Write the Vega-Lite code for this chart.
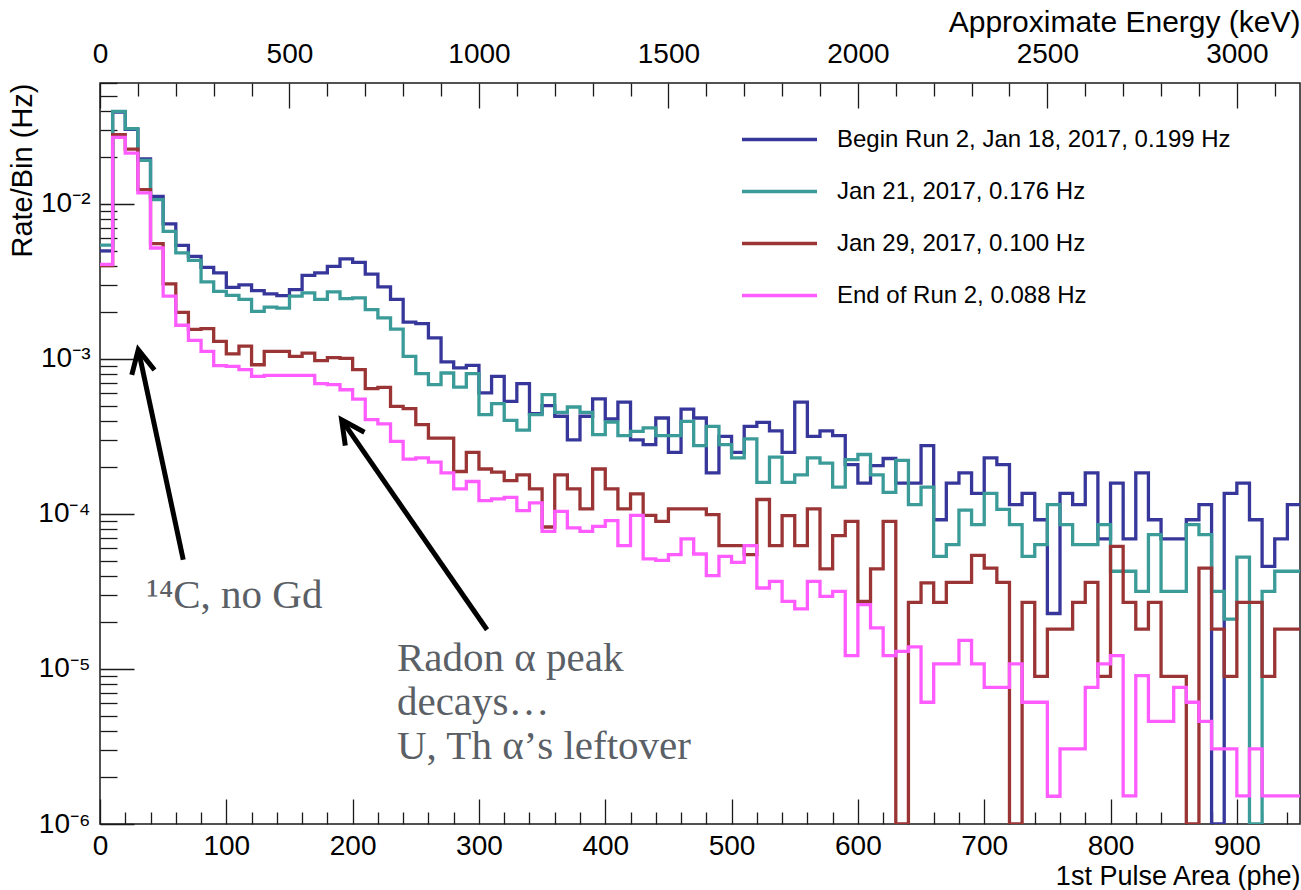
{
  "$schema": "https://vega.github.io/schema/vega-lite/v6.json",
  "width": 1200,
  "height": 741,
  "autosize": {"type": "none"},
  "padding": {"left": 100, "top": 83, "right": 1, "bottom": 66},
  "background": "white",
  "config": {
    "view": {"stroke": "#1a1a1a", "strokeWidth": 1.5},
    "font": "Liberation Sans",
    "axis": {
      "domain": false,
      "grid": false,
      "labelFont": "Liberation Sans",
      "titleFont": "Liberation Sans",
      "labelColor": "#000",
      "titleColor": "#000",
      "tickColor": "#1a1a1a",
      "tickWidth": 1.3,
      "titleFontWeight": "normal",
      "labelFlush": false,
      "labelOverlap": false,
      "labelBound": false
    }
  },
  "datasets": {
    "spectra": [
      {"phe": 0, "b": 4.98e-3, "t": 5.43e-3, "r": 4.00e-3, "p": 4.07e-3},
      {"phe": 10, "b": 3.92e-2, "t": 3.96e-2, "r": 2.80e-2, "p": 2.69e-2},
      {"phe": 20, "b": 3.03e-2, "t": 3.06e-2, "r": 2.26e-2, "p": 2.13e-2},
      {"phe": 30, "b": 1.95e-2, "t": 1.91e-2, "r": 1.236e-2, "p": 1.178e-2},
      {"phe": 40, "b": 1.12e-2, "t": 1.066e-2, "r": 5.55e-3, "p": 5.20e-3},
      {"phe": 50, "b": 7.43e-3, "t": 6.66e-3, "r": 3.05e-3, "p": 2.54e-3},
      {"phe": 60, "b": 5.41e-3, "t": 4.83e-3, "r": 2.00e-3, "p": 1.65e-3},
      {"phe": 70, "b": 4.59e-3, "t": 4.33e-3, "r": 1.55e-3, "p": 1.32e-3},
      {"phe": 80, "b": 3.90e-3, "t": 3.14e-3, "r": 1.57e-3, "p": 1.12e-3},
      {"phe": 90, "b": 3.59e-3, "t": 2.73e-3, "r": 1.30e-3, "p": 9.06e-4},
      {"phe": 100, "b": 2.90e-3, "t": 2.57e-3, "r": 1.08e-3, "p": 8.96e-4},
      {"phe": 110, "b": 3.01e-3, "t": 2.42e-3, "r": 1.21e-3, "p": 8.53e-4},
      {"phe": 120, "b": 2.76e-3, "t": 2.03e-3, "r": 9.18e-4, "p": 7.73e-4},
      {"phe": 130, "b": 2.63e-3, "t": 2.16e-3, "r": 1.12e-3, "p": 7.84e-4},
      {"phe": 140, "b": 2.56e-3, "t": 2.13e-3, "r": 1.12e-3, "p": 7.84e-4},
      {"phe": 150, "b": 2.80e-3, "t": 2.54e-3, "r": 1.04e-3, "p": 7.84e-4},
      {"phe": 160, "b": 3.46e-3, "t": 2.67e-3, "r": 1.09e-3, "p": 7.84e-4},
      {"phe": 170, "b": 3.59e-3, "t": 2.42e-3, "r": 9.75e-4, "p": 6.93e-4},
      {"phe": 180, "b": 3.96e-3, "t": 2.71e-3, "r": 1.02e-3, "p": 6.83e-4},
      {"phe": 190, "b": 4.42e-3, "t": 2.45e-3, "r": 1.01e-3, "p": 6.33e-4},
      {"phe": 200, "b": 4.20e-3, "t": 2.48e-3, "r": 8.53e-4, "p": 5.51e-4},
      {"phe": 210, "b": 3.53e-3, "t": 2.08e-3, "r": 6.43e-4, "p": 4.06e-4},
      {"phe": 220, "b": 2.92e-3, "t": 1.84e-3, "r": 6.56e-4, "p": 3.81e-4},
      {"phe": 230, "b": 2.42e-3, "t": 1.56e-3, "r": 4.94e-4, "p": 2.94e-4},
      {"phe": 240, "b": 1.73e-3, "t": 1.04e-3, "r": 4.78e-4, "p": 2.26e-4},
      {"phe": 250, "b": 1.69e-3, "t": 8.04e-4, "r": 3.77e-4, "p": 2.30e-4},
      {"phe": 260, "b": 1.37e-3, "t": 6.83e-4, "r": 3.09e-4, "p": 2.16e-4},
      {"phe": 270, "b": 9.57e-4, "t": 8.12e-4, "r": 3.09e-4, "p": 1.84e-4},
      {"phe": 280, "b": 8.75e-4, "t": 6.59e-4, "r": 1.88e-4, "p": 1.45e-4},
      {"phe": 290, "b": 9.10e-4, "t": 8.04e-4, "r": 2.50e-4, "p": 1.62e-4},
      {"phe": 300, "b": 6.04e-4, "t": 4.38e-4, "r": 1.95e-4, "p": 1.22e-4},
      {"phe": 310, "b": 7.73e-4, "t": 5.15e-4, "r": 1.86e-4, "p": 1.25e-4},
      {"phe": 320, "b": 5.33e-4, "t": 4.02e-4, "r": 1.64e-4, "p": 1.28e-4},
      {"phe": 330, "b": 6.93e-4, "t": 3.47e-4, "r": 1.79e-4, "p": 1.05e-4},
      {"phe": 340, "b": 4.44e-4, "t": 4.38e-4, "r": 1.45e-4, "p": 1.18e-4},
      {"phe": 350, "b": 5.00e-4, "t": 5.89e-4, "r": 8.24e-5, "p": 7.73e-5},
      {"phe": 360, "b": 4.27e-4, "t": 4.53e-4, "r": 1.79e-4, "p": 1.04e-4},
      {"phe": 370, "b": 3.01e-4, "t": 4.90e-4, "r": 1.45e-4, "p": 8.13e-5},
      {"phe": 380, "b": 4.27e-4, "t": 4.53e-4, "r": 1.08e-4, "p": 7.73e-5},
      {"phe": 390, "b": 5.52e-4, "t": 3.25e-4, "r": 1.95e-4, "p": 8.32e-5},
      {"phe": 400, "b": 4.10e-4, "t": 3.92e-4, "r": 1.45e-4, "p": 9.06e-5},
      {"phe": 410, "b": 5.27e-4, "t": 3.20e-4, "r": 1.08e-4, "p": 6.25e-5},
      {"phe": 420, "b": 3.01e-4, "t": 3.41e-4, "r": 1.35e-4, "p": 9.79e-5},
      {"phe": 430, "b": 2.80e-4, "t": 3.59e-4, "r": 9.79e-5, "p": 5.13e-5},
      {"phe": 440, "b": 4.16e-4, "t": 3.20e-4, "r": 8.97e-5, "p": 5.02e-5},
      {"phe": 450, "b": 2.50e-4, "t": 3.20e-4, "r": 1.08e-4, "p": 5.46e-5},
      {"phe": 460, "b": 4.75e-4, "t": 3.96e-4, "r": 1.08e-4, "p": 6.90e-5},
      {"phe": 470, "b": 4.16e-4, "t": 2.76e-4, "r": 1.08e-4, "p": 5.52e-5},
      {"phe": 480, "b": 1.84e-4, "t": 3.67e-4, "r": 9.91e-5, "p": 4.00e-5},
      {"phe": 490, "b": 3.17e-4, "t": 2.80e-4, "r": 6.25e-5, "p": 5.33e-5},
      {"phe": 500, "b": 2.50e-4, "t": 2.30e-4, "r": 6.25e-5, "p": 4.88e-5},
      {"phe": 510, "b": 3.67e-4, "t": 3.05e-4, "r": 5.46e-5, "p": 6.25e-5},
      {"phe": 520, "b": 3.90e-4, "t": 1.60e-4, "r": 1.24e-4, "p": 3.33e-5},
      {"phe": 530, "b": 3.44e-4, "t": 2.33e-4, "r": 6.25e-5, "p": 3.67e-5},
      {"phe": 540, "b": 2.50e-4, "t": 1.60e-4, "r": 9.75e-5, "p": 2.73e-5},
      {"phe": 550, "b": 5.27e-4, "t": 1.79e-4, "r": 6.25e-5, "p": 2.44e-5},
      {"phe": 560, "b": 3.17e-4, "t": 2.30e-4, "r": 1.08e-4, "p": 3.67e-5},
      {"phe": 570, "b": 3.44e-4, "t": 2.13e-4, "r": 4.42e-5, "p": 2.94e-5},
      {"phe": 580, "b": 3.20e-4, "t": 1.49e-4, "r": 7.24e-5, "p": 3.17e-5},
      {"phe": 590, "b": 2.08e-4, "t": 2.24e-4, "r": 8.97e-5, "p": 1.22e-5},
      {"phe": 600, "b": 1.58e-4, "t": 2.42e-4, "r": 2.73e-5, "p": 2.60e-5},
      {"phe": 610, "b": 2.05e-4, "t": 1.79e-4, "r": 4.42e-5, "p": 1.84e-5},
      {"phe": 620, "b": 2.28e-4, "t": 1.38e-4, "r": 8.97e-5, "p": 1.22e-5},
      {"phe": 630, "b": 1.58e-4, "t": 2.22e-4, "r": 0, "p": 1.30e-5},
      {"phe": 640, "b": 1.58e-4, "t": 1.15e-4, "r": 2.69e-5, "p": 1.39e-5},
      {"phe": 650, "b": 2.76e-4, "t": 1.49e-4, "r": 3.59e-5, "p": 6.10e-6},
      {"phe": 660, "b": 9.18e-5, "t": 5.33e-5, "r": 2.69e-5, "p": 1.08e-5},
      {"phe": 670, "b": 1.58e-4, "t": 6.34e-5, "r": 3.62e-5, "p": 1.08e-5},
      {"phe": 680, "b": 1.84e-4, "t": 1.06e-4, "r": 3.62e-5, "p": 1.53e-5},
      {"phe": 690, "b": 1.36e-4, "t": 8.53e-5, "r": 5.41e-5, "p": 1.08e-5},
      {"phe": 700, "b": 2.30e-4, "t": 1.36e-4, "r": 4.48e-5, "p": 7.62e-6},
      {"phe": 710, "b": 2.08e-4, "t": 1.07e-4, "r": 3.62e-5, "p": 7.62e-6},
      {"phe": 720, "b": 1.15e-4, "t": 8.53e-5, "r": 0, "p": 1.08e-5},
      {"phe": 730, "b": 1.36e-4, "t": 5.33e-5, "r": 2.69e-5, "p": 6.10e-6},
      {"phe": 740, "b": 9.18e-5, "t": 6.34e-5, "r": 8.97e-6, "p": 6.10e-6},
      {"phe": 750, "b": 2.28e-5, "t": 1.15e-4, "r": 1.81e-5, "p": 1.51e-6},
      {"phe": 760, "b": 1.36e-4, "t": 8.53e-5, "r": 1.81e-5, "p": 3.05e-6},
      {"phe": 770, "b": 1.15e-4, "t": 6.34e-5, "r": 2.69e-5, "p": 3.05e-6},
      {"phe": 780, "b": 1.84e-4, "t": 6.34e-5, "r": 3.62e-5, "p": 7.62e-6},
      {"phe": 790, "b": 6.90e-5, "t": 8.53e-5, "r": 8.97e-6, "p": 1.08e-5},
      {"phe": 800, "b": 1.58e-4, "t": 4.27e-5, "r": 6.18e-5, "p": 1.22e-5},
      {"phe": 810, "b": 6.90e-5, "t": 4.27e-5, "r": 2.69e-5, "p": 1.52e-6},
      {"phe": 820, "b": 1.84e-4, "t": 3.17e-5, "r": 1.81e-5, "p": 9.06e-6},
      {"phe": 830, "b": 9.18e-5, "t": 7.36e-5, "r": 2.69e-5, "p": 4.59e-6},
      {"phe": 840, "b": 6.90e-5, "t": 3.17e-5, "r": 8.97e-6, "p": 4.59e-6},
      {"phe": 850, "b": 6.90e-5, "t": 3.17e-5, "r": 8.97e-6, "p": 7.62e-6},
      {"phe": 860, "b": 9.18e-5, "t": 8.53e-5, "r": 0, "p": 6.10e-6},
      {"phe": 870, "b": 1.15e-4, "t": 7.36e-5, "r": 4.48e-5, "p": 4.59e-6},
      {"phe": 880, "b": 0, "t": 3.17e-5, "r": 1.81e-5, "p": 3.05e-6},
      {"phe": 890, "b": 1.36e-4, "t": 2.10e-5, "r": 8.97e-6, "p": 3.05e-6},
      {"phe": 900, "b": 1.58e-4, "t": 5.27e-5, "r": 2.69e-5, "p": 1.52e-6},
      {"phe": 910, "b": 9.18e-5, "t": 0, "r": 2.69e-5, "p": 3.05e-6},
      {"phe": 920, "b": 4.59e-5, "t": 3.17e-5, "r": 8.97e-6, "p": 1.52e-6},
      {"phe": 930, "b": 6.90e-5, "t": 4.27e-5, "r": 1.81e-5, "p": 1.52e-6},
      {"phe": 940, "b": 1.15e-4, "t": 4.27e-5, "r": 1.81e-5, "p": 1.52e-6},
      {"phe": 950, "b": 1.15e-4, "t": 4.27e-5, "r": 1.81e-5, "p": 1.52e-6}
    ]
  },
  "layer": [
    {
      "data": {"name": "spectra"},
      "transform": [{"fold": ["b", "t", "r", "p"], "as": ["run", "rate"]}],
      "mark": {"type": "line", "interpolate": "step-after", "strokeWidth": 3.3, "clip": true, "strokeJoin": "miter"},
      "encoding": {
        "x": {
          "field": "phe", "type": "quantitative",
          "scale": {"domain": [0, 950], "nice": false, "zero": false},
          "axis": {
            "orient": "bottom", "values": [0, 100, 200, 300, 400, 500, 600, 700, 800, 900],
            "ticks": false, "labelPadding": 8, "labelFontSize": 28, "format": "d",
            "title": "1st Pulse Area (phe)", "titleFontSize": 27,
            "titleX": 1200, "titleY": 52, "titleAlign": "right", "titleBaseline": "middle", "titleAnchor": "end"
          }
        },
        "y": {
          "field": "rate", "type": "quantitative",
          "scale": {"type": "log", "domain": [1e-6, 0.0603], "nice": false, "clamp": true},
          "axis": {
            "orient": "left", "values": [1e-6, 1e-5, 1e-4, 1e-3, 1e-2],
            "ticks": false, "labelPadding": 10, "labelFontSize": 28,
            "labelExpr": "['10⁻⁶', '10⁻⁵', '10⁻⁴', '10⁻³', '10⁻²'][round(log(datum.value) / LN10) + 6]",
            "title": "Rate/Bin (Hz)", "titleFontSize": 29,
            "titleX": -78, "titleY": 0, "titleAngle": -90, "titleAlign": "right", "titleBaseline": "middle"
          }
        },
        "color": {
          "field": "run", "type": "nominal",
          "scale": {"domain": ["b", "t", "r", "p"], "range": ["#37379b", "#3a9b98", "#9b3535", "#ff5cff"]},
          "legend": {
            "orient": "none", "legendX": 640, "legendY": 17, "title": null, "padding": 0,
            "symbolType": "stroke", "symbolSize": 5625, "symbolStrokeWidth": 3.3,
            "labelFont": "Liberation Sans", "labelFontSize": 24, "labelColor": "#000",
            "labelOffset": 18, "rowPadding": -28, "labelLimit": 700,
            "labelExpr": "datum.label == 'b' ? 'Begin Run 2, Jan 18, 2017, 0.199 Hz' : datum.label == 't' ? 'Jan 21, 2017, 0.176 Hz' : datum.label == 'r' ? 'Jan 29, 2017, 0.100 Hz' : 'End of Run 2, 0.088 Hz'"
          }
        }
      }
    },
    {
      "data": {"values": [{}]},
      "mark": {"type": "point", "opacity": 0},
      "encoding": {
        "x": {
          "datum": 0, "type": "quantitative",
          "scale": {"domain": [0, 950], "nice": false, "zero": false},
          "axis": {"orient": "bottom", "values": [0, 100, 200, 300, 400, 500, 600, 700, 800, 900], "tickSize": -25, "labels": false, "title": null}
        },
        "y": {
          "datum": 0.001, "type": "quantitative",
          "scale": {"type": "log", "domain": [1e-6, 0.0603], "nice": false, "clamp": true},
          "axis": {"orient": "left", "values": [1e-6, 1e-5, 1e-4, 1e-3, 1e-2], "tickSize": -34, "labels": false, "title": null}
        }
      }
    },
    {
      "data": {"values": [{}]},
      "mark": {"type": "point", "opacity": 0},
      "encoding": {
        "x": {
          "datum": 0, "type": "quantitative",
          "scale": {"domain": [0, 950], "nice": false, "zero": false},
          "axis": {
            "orient": "bottom",
            "values": [20, 40, 60, 80, 120, 140, 160, 180, 220, 240, 260, 280, 320, 340, 360, 380, 420, 440, 460, 480, 520, 540, 560, 580, 620, 640, 660, 680, 720, 740, 760, 780, 820, 840, 860, 880, 920, 940],
            "tickSize": -12, "labels": false, "title": null
          }
        },
        "y": {
          "datum": 0.001, "type": "quantitative",
          "scale": {"type": "log", "domain": [1e-6, 0.0603], "nice": false, "clamp": true},
          "axis": {
            "orient": "left",
            "values": [2e-6, 3e-6, 4e-6, 5e-6, 6e-6, 7e-6, 8e-6, 9e-6, 2e-5, 3e-5, 4e-5, 5e-5, 6e-5, 7e-5, 8e-5, 9e-5, 2e-4, 3e-4, 4e-4, 5e-4, 6e-4, 7e-4, 8e-4, 9e-4, 2e-3, 3e-3, 4e-3, 5e-3, 6e-3, 7e-3, 8e-3, 9e-3, 2e-2, 3e-2, 4e-2, 5e-2, 6e-2],
            "tickSize": -17, "labels": false, "title": null
          }
        }
      }
    },
    {
      "data": {"values": [{}]},
      "mark": {"type": "point", "opacity": 0},
      "encoding": {
        "x": {
          "datum": 0, "type": "quantitative",
          "scale": {"domain": [0, 950], "nice": false, "zero": false},
          "axis": {
            "orient": "top", "values": [0, 150, 300, 450, 600, 750, 900],
            "ticks": false, "labelPadding": 15, "labelFontSize": 28,
            "labelExpr": "format(round(datum.value * 10 / 3), 'd')",
            "title": "Approximate Energy (keV)", "titleFontSize": 30,
            "titleX": 1200, "titleY": -61, "titleAlign": "right", "titleBaseline": "middle", "titleAnchor": "end"
          }
        }
      }
    },
    {
      "data": {"values": [{}]},
      "mark": {"type": "point", "opacity": 0},
      "encoding": {
        "x": {
          "datum": 0, "type": "quantitative",
          "scale": {"domain": [0, 950], "nice": false, "zero": false},
          "axis": {"orient": "top", "values": [0, 150, 300, 450, 600, 750, 900], "tickSize": -25, "labels": false, "title": null}
        }
      }
    },
    {
      "data": {"values": [{}]},
      "mark": {"type": "point", "opacity": 0},
      "encoding": {
        "x": {
          "datum": 0, "type": "quantitative",
          "scale": {"domain": [0, 950], "nice": false, "zero": false},
          "axis": {
            "orient": "top",
            "values": [30, 60, 90, 120, 180, 210, 240, 270, 330, 360, 390, 420, 480, 510, 540, 570, 630, 660, 690, 720, 780, 810, 840, 870, 930],
            "tickSize": -13, "labels": false, "title": null
          }
        }
      }
    },
    {
      "data": {"values": [{}]},
      "mark": {"type": "rule", "color": "#000", "strokeWidth": 5},
      "encoding": {
        "x": {"datum": 65.9, "type": "quantitative", "axis": null},
        "y": {"datum": 5.07e-5, "type": "quantitative", "axis": null},
        "x2": {"datum": 30.5},
        "y2": {"datum": 1.13e-3}
      }
    },
    {
      "data": {"values": [{}]},
      "mark": {"type": "point", "shape": "M-0.5,1L0,0L0.5,1", "filled": false, "stroke": "#000", "strokeWidth": 5, "strokeJoin": "miter", "opacity": 1, "size": 2160, "angle": -12.1},
      "encoding": {
        "x": {"datum": 30.3, "type": "quantitative", "axis": null},
        "y": {"datum": 1.148e-3, "type": "quantitative", "axis": null}
      }
    },
    {
      "data": {"values": [{}]},
      "mark": {"type": "rule", "color": "#000", "strokeWidth": 5},
      "encoding": {
        "x": {"datum": 306.4, "type": "quantitative", "axis": null},
        "y": {"datum": 1.79e-5, "type": "quantitative", "axis": null},
        "x2": {"datum": 192.0},
        "y2": {"datum": 3.97e-4}
      }
    },
    {
      "data": {"values": [{}]},
      "mark": {"type": "point", "shape": "M-0.5,1L0,0L0.5,1", "filled": false, "stroke": "#000", "strokeWidth": 5, "strokeJoin": "miter", "opacity": 1, "size": 2160, "angle": -34.7},
      "encoding": {
        "x": {"datum": 191.3, "type": "quantitative", "axis": null},
        "y": {"datum": 4.05e-4, "type": "quantitative", "axis": null}
      }
    },
    {
      "data": {"values": [{}]},
      "mark": {"type": "text", "text": "¹⁴C, no Gd", "font": "Liberation Serif", "fontSize": 41, "color": "#5a6066", "align": "left", "baseline": "alphabetic"},
      "encoding": {
        "x": {"datum": 36.9, "type": "quantitative", "axis": null},
        "y": {"datum": 2.48e-5, "type": "quantitative", "axis": null}
      }
    },
    {
      "data": {"values": [{}]},
      "mark": {"type": "text", "text": ["Radon α peak", "decays…", "U, Th α’s leftover"], "font": "Liberation Serif", "fontSize": 41, "lineHeight": 44, "color": "#5a6066", "align": "left", "baseline": "alphabetic"},
      "encoding": {
        "x": {"datum": 235.1, "type": "quantitative", "axis": null},
        "y": {"datum": 9.65e-6, "type": "quantitative", "axis": null}
      }
    }
  ],
  "resolve": {"axis": {"x": "independent", "y": "independent"}}
}
